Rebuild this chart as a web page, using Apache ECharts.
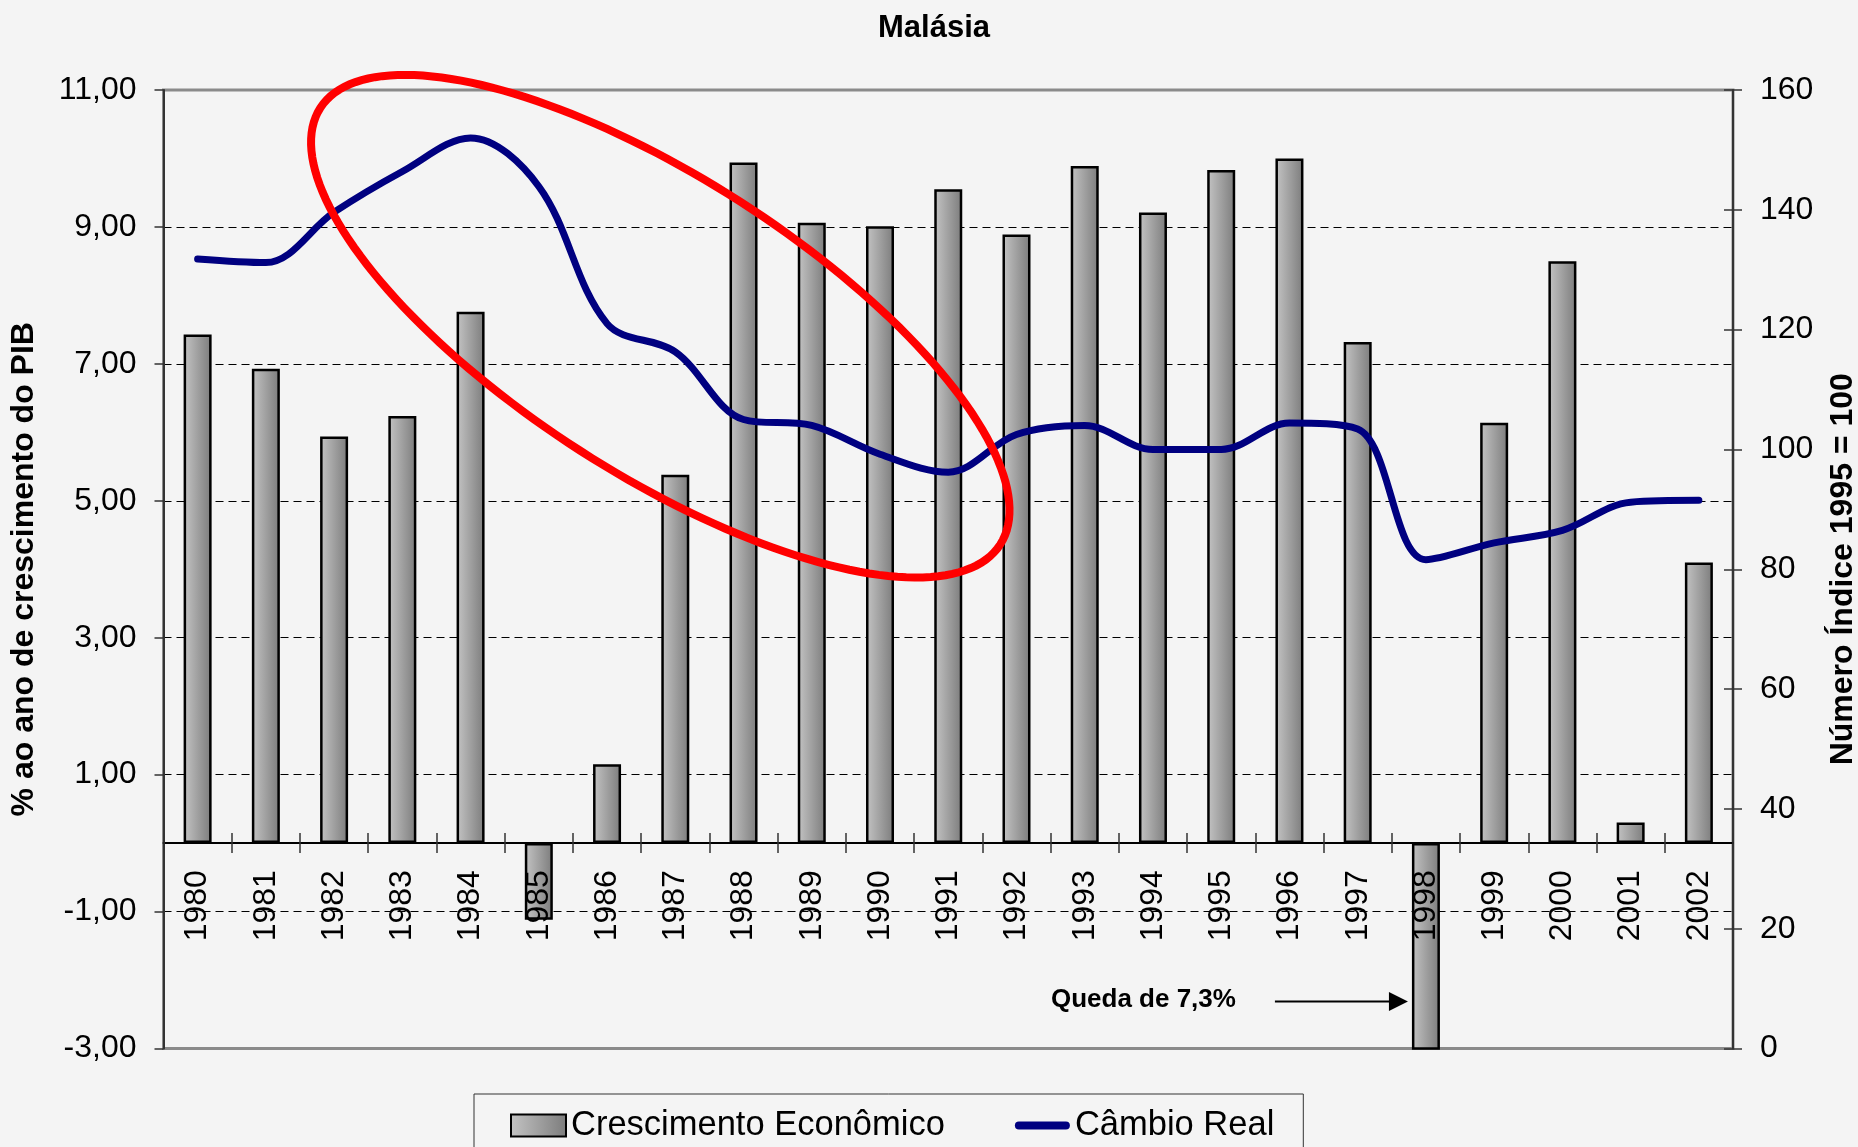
<!DOCTYPE html>
<html>
<head>
<meta charset="utf-8">
<script src="https://cdn.jsdelivr.net/npm/echarts@6/dist/echarts.min.js"></script>
<style>
  html, body { margin: 0; padding: 0; background: #f4f4f4; }
  #chart { width: 1858px; height: 1147px; }
</style>
</head>
<body>
<div id="chart"></div>
<script>
const years = ["1980", "1981", "1982", "1983", "1984", "1985", "1986", "1987", "1988", "1989", "1990", "1991",
  "1992", "1993", "1994", "1995", "1996", "1997", "1998", "1999", "2000", "2001", "2002"];
// % ao ano de crescimento do PIB
const crescimento = [7.43, 6.93, 5.94, 6.24, 7.76, -1.12, 1.15, 5.38, 9.94, 9.06, 9.01, 9.55,
  8.89, 9.89, 9.21, 9.83, 10.0, 7.32, -7.3, 6.14, 8.5, 0.3, 4.1];
// câmbio real, índice 1995 = 100
const cambio = [131.8, 131.2, 139.6, 146.4, 152.0, 143.9, 121.0, 116.3, 105.0, 104.0, 99.2, 96.2,
  102.5, 104.0, 100.0, 100.0, 104.4, 103.4, 81.6, 84.4, 86.5, 91.2, 91.5];

const leftAxis = { min: -3, max: 11, interval: 2 };
const rightAxis = { min: 0, max: 160, interval: 20 };

const FONT = "'Liberation Sans', Arial, sans-serif";

const chart = echarts.init(document.getElementById("chart"));

const barColor = new echarts.graphic.LinearGradient(0, 0, 1, 0, [
  { offset: 0, color: "#c4c4c4" },
  { offset: 1, color: "#7c7c7c" },
]);

const tickStyle = { color: "#333", width: 1.5 };

chart.setOption({
  animation: false,
  backgroundColor: "#f4f4f4",
  title: {
    text: "Malásia",
    left: 929,
    textAlign: "center",
    top: 8,
    textStyle: { fontFamily: FONT, fontSize: 31, fontWeight: "bold", color: "#000" },
  },
  grid: {
    left: 163.5,
    right: 125,
    top: 90,
    bottom: 98.5,
    containLabel: false,
    outerBoundsMode: "none",
    show: true,
    backgroundColor: "transparent",
    borderColor: "#8a8a8a",
    borderWidth: 3,
  },
  legend: {
    left: 474,
    top: 1094,
    orient: "horizontal",
    padding: [14, 29, 40, 36],
    itemGap: 70,
    itemWidth: 55,
    itemHeight: 22,
    borderColor: "#333",
    borderWidth: 1,
    backgroundColor: "#f4f4f4",
    textStyle: { fontFamily: FONT, fontSize: 34.5, color: "#000" },
    data: [
      { name: "Crescimento Econômico", icon: "rect" },
      {
        name: "Câmbio Real",
        icon: "path://M4,0 L51,0 A4,4 0 0 1 51,8 L4,8 A4,4 0 0 1 4,0 Z",
        itemStyle: { color: "#000080", borderWidth: 0 },
      },
    ],
  },
  xAxis: [
    {
      type: "category",
      data: years,
      position: "bottom",
      z: 10,
      axisLine: { onZero: false, lineStyle: { color: "#000", width: 2 } },
      axisTick: { show: true, inside: false, length: 10, lineStyle: tickStyle },
      axisLabel: { rotate: 90, margin: 27, fontFamily: FONT, fontSize: 32, color: "#000" },
      splitLine: { show: false },
    },
    {
      type: "category",
      data: years,
      position: "bottom",
      z: 10,
      axisLine: { show: false, onZero: false },
      axisTick: { show: true, inside: true, length: 10, lineStyle: tickStyle },
      axisLabel: { show: false },
      splitLine: { show: false },
    },
  ],
  yAxis: [
    {
      type: "value",
      position: "left",
      min: leftAxis.min,
      max: leftAxis.max,
      interval: leftAxis.interval,
      name: "% ao ano de crescimento do PIB",
      nameLocation: "middle",
      nameRotate: 90,
      nameGap: 123,
      nameTextStyle: { fontFamily: FONT, fontSize: 32, fontWeight: "bold", color: "#000" },
      axisLine: { show: true, lineStyle: { color: "#333", width: 2 } },
      axisTick: { show: true, inside: false, length: 9, lineStyle: tickStyle },
      axisLabel: {
        margin: 27,
        fontFamily: FONT,
        fontSize: 32,
        color: "#000",
        formatter: (v) => v.toFixed(2).replace(".", ","),
      },
      splitLine: {
        show: true,
        showMinLine: false,
        showMaxLine: false,
        lineStyle: { color: "#000", width: 1, type: [8, 5] },
      },
    },
    {
      type: "value",
      position: "right",
      min: rightAxis.min,
      max: rightAxis.max,
      interval: rightAxis.interval,
      name: "Número Índice 1995 = 100",
      nameLocation: "middle",
      nameRotate: 90,
      nameGap: 94,
      nameTextStyle: { fontFamily: FONT, fontSize: 32, fontWeight: "bold", color: "#000" },
      axisLine: { show: true, lineStyle: { color: "#333", width: 2 } },
      axisTick: { show: true, inside: false, length: 9, lineStyle: tickStyle },
      axisLabel: { margin: 27, fontFamily: FONT, fontSize: 32, color: "#000" },
      splitLine: { show: false },
    },
    {
      type: "value",
      position: "right",
      min: rightAxis.min,
      max: rightAxis.max,
      interval: rightAxis.interval,
      axisLine: { show: false },
      axisTick: { show: true, inside: true, length: 9, lineStyle: tickStyle },
      axisLabel: { show: false },
      splitLine: { show: false },
    },
  ],
  series: [
    {
      name: "Crescimento Econômico",
      type: "bar",
      xAxisIndex: 0,
      yAxisIndex: 0,
      data: crescimento,
      barWidth: 28,
      itemStyle: { color: barColor, borderColor: "#000", borderWidth: 2.5 },
      z: 2,
    },
    {
      name: "Câmbio Real",
      type: "line",
      xAxisIndex: 0,
      yAxisIndex: 1,
      data: cambio,
      smooth: 0.35,
      symbol: "none",
      lineStyle: { color: "#000080", width: 7, cap: "round" },
      itemStyle: { color: "#000080" },
      z: 3,
    },
  ],
});

// put the category axis on the zero of the left axis
const zeroY = chart.convertToPixel({ yAxisIndex: 0 }, 0);
const bottomY = chart.convertToPixel({ yAxisIndex: 0 }, leftAxis.min);
const xOffset = zeroY - bottomY;
chart.setOption({ xAxis: [{ offset: xOffset }, { offset: xOffset }] });

// annotations: red highlight ellipse and the 1998 arrow, anchored to data coords
const ellipseCenter = { index: 6.78, value: 7.55 };
const pA = chart.convertToPixel({ xAxisIndex: 0, yAxisIndex: 0 }, [6, ellipseCenter.value]);
const pB = chart.convertToPixel({ xAxisIndex: 0, yAxisIndex: 0 }, [7, ellipseCenter.value]);
const cx = pA[0] + (ellipseCenter.index - 6) * (pB[0] - pA[0]);
const cy = pA[1];
const ea = 404, eb = 148, phi = (32.7 * Math.PI) / 180;
const ellipsePts = [];
for (let i = 0; i <= 180; i++) {
  const t = (i / 180) * Math.PI * 2;
  ellipsePts.push([
    cx + ea * Math.cos(t) * Math.cos(phi) - eb * Math.sin(t) * Math.sin(phi),
    cy + ea * Math.cos(t) * Math.sin(phi) + eb * Math.sin(t) * Math.cos(phi),
  ]);
}

const p98 = chart.convertToPixel({ xAxisIndex: 0, yAxisIndex: 0 }, ["1998", -2.3]);
const tipX = p98[0] - 18;
const ay = p98[1] + 1;

chart.setOption({
  graphic: [
    {
      type: "polygon",
      z: 100,
      shape: { points: ellipsePts },
      style: { fill: "none", stroke: "#ff0000", lineWidth: 8 },
    },
    {
      type: "line",
      z: 100,
      shape: { x1: tipX - 133, y1: ay, x2: tipX - 16, y2: ay },
      style: { stroke: "#000", lineWidth: 2 },
    },
    {
      type: "polygon",
      z: 100,
      shape: { points: [[tipX - 19, ay - 9.5], [tipX, ay], [tipX - 19, ay + 9.5]] },
      style: { fill: "#000" },
    },
    {
      type: "text",
      z: 100,
      x: tipX - 172,
      y: ay - 2,
      style: {
        text: "Queda de 7,3%",
        fill: "#000",
        font: "bold 26px 'Liberation Sans', Arial, sans-serif",
        align: "right",
        verticalAlign: "middle",
      },
    },
  ],
});
</script>
</body>
</html>
